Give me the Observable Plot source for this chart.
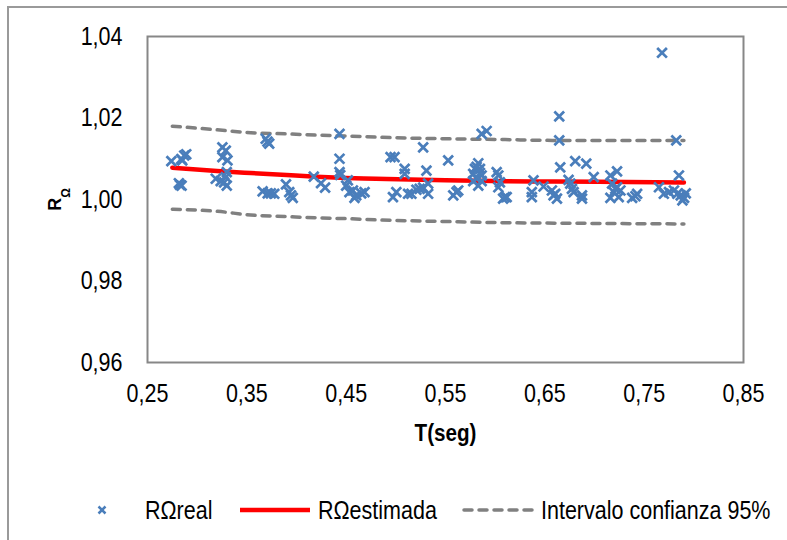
<!DOCTYPE html>
<html>
<head>
<meta charset="utf-8">
<script src="https://cdn.jsdelivr.net/npm/d3@7"></script>
<script src="https://cdn.jsdelivr.net/npm/@observablehq/plot@0.6"></script>
<style>
  html, body { margin: 0; padding: 0; overflow: hidden; background: #fff; }
  body { width: 787px; height: 540px; position: relative;
         font-family: "Liberation Sans", Arial, sans-serif; }
  #outer { position: absolute; left: 7px; top: 6px; width: 900px; height: 700px;
           border-left: 2px solid #9a9a9a; border-top: 2px solid #9a9a9a; pointer-events: none; }
  #legend { position: relative; width: 787px; height: 60px; font-size: 25px; color: #000; }
  #legend .it { position: absolute; top: 16px; line-height: 28px; white-space: nowrap;
                display: inline-block; transform: scaleX(0.86); transform-origin: left center; }
  #legend svg { position: absolute; }
</style>
</head>
<body>
<div id="chart"></div>
<div id="legend"></div>
<div id="outer"></div>
<script>
// Scatter data: T (s) and RΩ real
const T = [
  0.274, 0.2816, 0.2843, 0.2827, 0.285, 0.284, 0.287, 0.289,
  0.3187, 0.3254, 0.3254, 0.3288, 0.3305, 0.3298, 0.3288, 0.3271, 0.3298, 0.3237,
  0.369, 0.3725, 0.3708,
  0.3659, 0.3742, 0.3776, 0.3710,
  0.3894, 0.3927, 0.3962, 0.3945,
  0.4174, 0.4247, 0.4288,
  0.4433, 0.4433, 0.4433, 0.4440,
  0.450, 0.4533, 0.4517,
  0.4568, 0.4601, 0.4652, 0.4685, 0.4584,
  0.4947, 0.4987, 0.4971, 0.5005,
  0.5089, 0.5089, 0.5123, 0.5157,
  0.5207, 0.524, 0.5275, 0.5275, 0.5308, 0.5325, 0.5325,
  0.5527, 0.5578, 0.5611, 0.5628,
  0.5864, 0.5914,
  0.583, 0.5796, 0.5847, 0.5779, 0.5864, 0.5813, 0.5779, 0.5864, 0.583, 0.5847, 0.5813,
  0.6015, 0.6032, 0.6048, 0.6032,
  0.6099, 0.6116, 0.6080,
  0.6386, 0.6369, 0.6369,
  0.6645, 0.6645, 0.6655,
  0.6806, 0.6917,
  0.6487, 0.6571, 0.6605, 0.6588, 0.6622,
  0.6739, 0.6756, 0.6773, 0.679,
  0.6874, 0.6874, 0.6992,
  0.716, 0.7227, 0.7177, 0.7227, 0.7261, 0.716, 0.7244, 0.7194, 0.7210,
  0.7379, 0.7429, 0.7412,
  0.7649, 0.7698, 0.7680,
  0.7823, 0.785,
  0.775, 0.78, 0.7834, 0.7868, 0.7902, 0.7919, 0.7885
];
const R = [
  1.0094, 1.0040, 1.0034, 1.0036, 1.0096, 1.0099, 1.0108, 1.0111,
  1.0051, 1.0128, 1.0104, 1.0120, 1.0096, 1.0067, 1.0055, 1.0042, 1.0034, 1.0045,
  1.0149, 1.0137, 1.0142,
  1.0020, 1.0015, 1.0014, 1.0015,
  1.0037, 1.0018, 1.0004, 1.0010,
  1.0056, 1.0040, 1.0029,
  1.0161, 1.0100, 1.0067, 1.0060,
  1.0034, 1.0018, 1.0047,
  1.0022, 1.0010, 1.0015, 1.0018, 1.0004,
  1.0104, 1.0104, 1.0006, 1.0018,
  1.0075, 1.0063, 1.0014, 1.0014,
  1.0024, 1.0026, 1.0029, 1.0128, 1.0071, 1.0039, 1.0014,
  1.0096, 1.0010, 1.0018, 1.0022,
  1.0161, 1.0168,
  1.0089, 1.0075, 1.0075, 1.0063, 1.0059, 1.0051, 1.0045, 1.0045, 1.0034, 1.0065, 1.0080,
  1.0067, 1.0059, 1.0042, 1.0030,
  1.0006, 1.0006, 1.0002,
  1.0047, 1.0018, 1.0006,
  1.0204, 1.0145, 1.0079,
  1.0094, 1.0088,
  1.0032, 1.0022, 1.0014, 1.0010, 1.0002,
  1.0048, 1.0039, 1.0026, 1.0018,
  1.0010, 1.0002, 1.0055,
  1.0059, 1.0069, 1.0039, 1.0030, 1.0022, 1.0004, 1.0006, 1.0018, 1.0026,
  1.0004, 1.0014, 1.0008,
  1.0030, 1.0014, 1.0360,
  1.0145, 1.0059,
  1.0018, 1.0022, 1.0014, 1.0010, 1.0004, 1.0015, 0.9998
];

// Fitted curve and 95% confidence band
const lineT    = [0.275, 0.32, 0.354, 0.39, 0.42, 0.45, 0.48, 0.55, 0.61, 0.66, 0.79];
const estimada = [1.0078, 1.0070, 1.0065, 1.0060, 1.0056, 1.0053, 1.0051, 1.0047, 1.0045, 1.0044, 1.0042];
const upper    = [1.0180, 1.0171, 1.0164, 1.0161, 1.0158, 1.0156, 1.0153, 1.0149, 1.0147, 1.0145, 1.0145];
const lower    = [0.9976, 0.9971, 0.9962, 0.9958, 0.9955, 0.9953, 0.9950, 0.9946, 0.9943, 0.9942, 0.9940];

// Tick labels
const xTicks = [0.25, 0.35, 0.45, 0.55, 0.65, 0.75, 0.85];
const yTicks = [0.96, 0.98, 1.00, 1.02, 1.04];

const fmt = d => d.toFixed(2).replace(".", ",");
const real = T.map((t, i) => ({t, r: R[i]}));
const curves = lineT.map((t, i) => ({t, est: estimada[i], up: upper[i], lo: lower[i]}));

const FONT = '"Liberation Sans", Arial, sans-serif';
const BLUE = "#4a7ebb", RED = "#ff0000", GRAY = "#808080";
const NARROW = 0.86;

const svg = Plot.plot({
  width: 787, height: 480,
  marginLeft: 147, marginRight: 44, marginTop: 36, marginBottom: 118,
  x: {domain: [0.25, 0.85]},
  y: {domain: [0.96, 1.04]},
  style: {fontFamily: FONT, fontSize: "25px", color: "#000", background: "transparent", overflow: "visible"},
  marks: [
    Plot.axisX({ticks: xTicks, tickSize: 0, tickPadding: 22, tickFormat: fmt, label: null}),
    Plot.axisY({ticks: yTicks, tickSize: 0, tickPadding: 25, tickFormat: fmt, label: null}),
    Plot.line(curves, {x: "t", y: "up", stroke: GRAY, strokeWidth: 3.5, strokeDasharray: "8,7", strokeLinecap: "round", curve: "monotone-x"}),
    Plot.line(curves, {x: "t", y: "lo", stroke: GRAY, strokeWidth: 3.5, strokeDasharray: "8,7", strokeLinecap: "round", curve: "monotone-x"}),
    Plot.line(curves, {x: "t", y: "est", stroke: RED, strokeWidth: 4.5, curve: "monotone-x"}),
    Plot.dot(real, {x: "t", y: "r", symbol: "times", r: 4.5, stroke: BLUE, strokeWidth: 2.7}),
    Plot.frame({stroke: "#878787", strokeWidth: 2}),
    Plot.text(["T(seg)"], {frameAnchor: "bottom", dy: 78, fontWeight: "bold", fontSize: 24}),
    Plot.text(["RΩ"], {frameAnchor: "left", textAnchor: "middle", dx: -92, dy: 0, rotate: -90, fontWeight: "bold", fontSize: 18})
  ]
});
document.getElementById("chart").appendChild(svg);

// narrow the text (the original uses a condensed face)
d3.select(svg).selectAll("text").each(function() {
  if (this.textContent === "RΩ") return;
  const L = this.getComputedTextLength();
  this.setAttribute("textLength", (L * NARROW).toFixed(2));
  this.setAttribute("lengthAdjust", "spacingAndGlyphs");
});

// subscript Ω in the y-axis label
d3.select(svg).selectAll("text").filter(function() { return this.textContent === "RΩ"; })
  .each(function() {
    const t = d3.select(this);
    t.text(null);
    t.append("tspan").text("R");
    t.append("tspan").attr("font-size", 12).attr("dy", "9").text("Ω");
  });

// Legend below the SVG
const legend = d3.select("#legend");
const mk = legend.append("svg").attr("width", 14).attr("height", 14).style("left", "95px").style("top", "23px");
mk.append("path").attr("d", "M3.5,3.5L10.5,10.5M10.5,3.5L3.5,10.5").attr("stroke", BLUE).attr("stroke-width", 2.5).attr("fill", "none");
legend.append("span").attr("class", "it").style("left", "145px").text("RΩreal");
const ln = legend.append("svg").attr("width", 74).attr("height", 8).style("left", "238px").style("top", "26px");
ln.append("line").attr("x1", 2).attr("x2", 72).attr("y1", 4).attr("y2", 4).attr("stroke", RED).attr("stroke-width", 4.5);
legend.append("span").attr("class", "it").style("left", "318px").text("RΩestimada");
const ds = legend.append("svg").attr("width", 76).attr("height", 8).style("left", "461px").style("top", "26px");
ds.append("line").attr("x1", 3).attr("x2", 73).attr("y1", 4).attr("y2", 4).attr("stroke", GRAY).attr("stroke-width", 3.5)
  .attr("stroke-dasharray", "8,7").attr("stroke-linecap", "round");
legend.append("span").attr("class", "it").style("left", "541px").text("Intervalo confianza 95%");
</script>
</body>
</html>
